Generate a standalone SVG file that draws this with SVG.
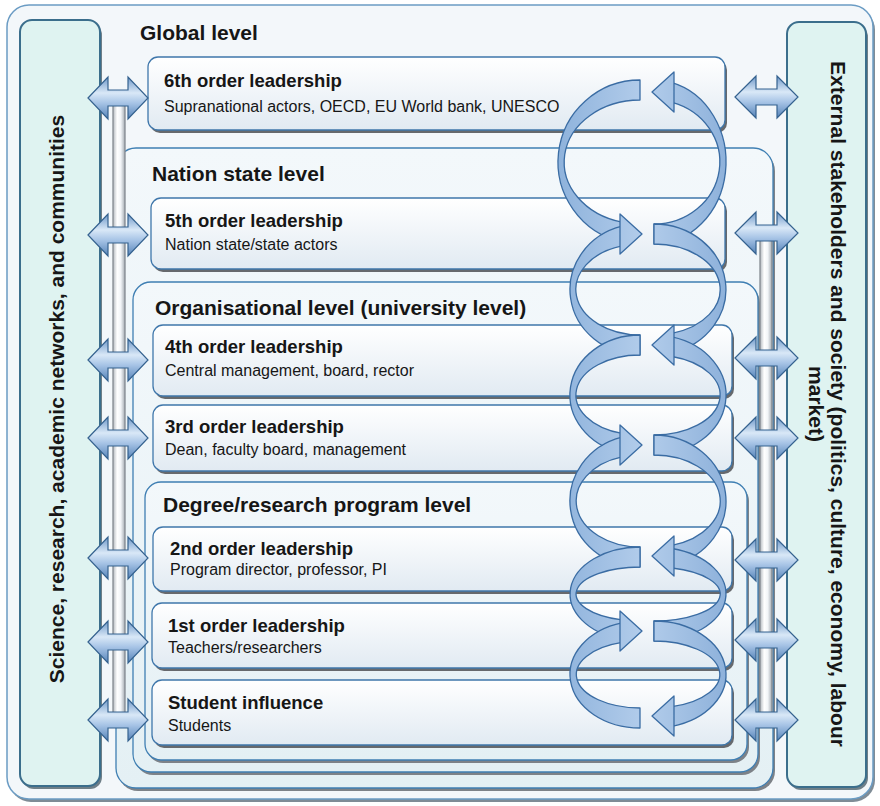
<svg xmlns="http://www.w3.org/2000/svg" width="880" height="806" viewBox="0 0 880 806">
<defs>
<style>
.t{font-family:"Liberation Sans",Arial,Helvetica,sans-serif;fill:#161616}
.lvl{font-size:21px;font-weight:bold}
.ttl{font-size:18.5px;font-weight:bold}
.sub{font-size:16px}
.side{font-size:21px;font-weight:bold}
.box{fill:url(#gBox);stroke:#3f77ab;stroke-width:1.3}
.shd{fill:#66696d}
.cont{fill:url(#gCont);stroke:#3f7fb3;stroke-width:1.3}
.cshd{fill:#7d8288}
.panel{fill:#dff3f1;stroke:#3b6e8c;stroke-width:2}
.dbl{fill:url(#gDbl);stroke:#35628f;stroke-width:1.2}
.swirl{fill:url(#gSw);stroke:#3a6ca3;stroke-width:1.3;stroke-linejoin:round}
.pipe{fill:url(#gPipe);stroke:#848b92;stroke-width:1.3}
</style>
<linearGradient id="gBox" x1="0" y1="0" x2="0" y2="1">
<stop offset="0" stop-color="#ffffff"/><stop offset="1" stop-color="#e1eaf2"/>
</linearGradient>
<linearGradient id="gCont" x1="0" y1="0" x2="0" y2="1">
<stop offset="0" stop-color="#f3f8fb"/><stop offset="1" stop-color="#e4f0f4"/>
</linearGradient>
<linearGradient id="gDbl" x1="0" y1="0" x2="0" y2="1">
<stop offset="0" stop-color="#6d97c8"/><stop offset="0.38" stop-color="#d9e8f7"/><stop offset="0.62" stop-color="#a7c4e6"/><stop offset="1" stop-color="#5583b8"/>
</linearGradient>
<linearGradient id="gSw" gradientUnits="userSpaceOnUse" x1="560" y1="0" x2="730" y2="0">
<stop offset="0" stop-color="#8fb3dc"/><stop offset="0.5" stop-color="#b3cdeb"/><stop offset="1" stop-color="#8cb0da"/>
</linearGradient>
<linearGradient id="gPipe" x1="0" y1="0" x2="1" y2="0">
<stop offset="0" stop-color="#b3b9bf"/><stop offset="0.35" stop-color="#ffffff"/><stop offset="0.65" stop-color="#f2f5f8"/><stop offset="1" stop-color="#a4abb2"/>
</linearGradient>
<path id="dblL" d="M88,0 L108,-21 L108,-8 L128,-8 L128,-21 L148,0 L128,21 L128,8 L108,8 L108,21 Z"/>
<path id="dblR" d="M735,0 L756,-21 L756,-8 L777,-8 L777,-21 L798,0 L777,21 L777,8 L756,8 L756,21 Z"/>
<path id="headR" d="M620,-20 L642,0 L620,20 Z"/>
<path id="headL" d="M674,-20 L652,0 L674,20 Z"/>
</defs>

<g id="frame">
<rect x="9" y="8" width="866" height="794" rx="22" fill="#7f8c96"/>
<rect x="7" y="5" width="866" height="794" rx="22" fill="#f3f7fa" stroke="#6b9cc4" stroke-width="1.5"/>
</g>

<g id="science-panel">
<rect x="22" y="23" width="80" height="766" rx="12" fill="#6f7f88"/>
<rect x="20" y="20" width="80" height="766" rx="12" class="panel"/>
<text class="t side" transform="translate(64,399) rotate(-90)" text-anchor="middle">Science, research, academic networks, and communities</text>
</g>

<g id="external-panel">
<rect x="789" y="25" width="79" height="765" rx="12" fill="#6f7f88"/>
<rect x="787" y="22" width="79" height="765" rx="12" class="panel"/>
<text class="t side" transform="translate(831,404) rotate(90)" text-anchor="middle">External stakeholders and society (politics, culture, economy, labour</text>
<text class="t side" transform="translate(809,404) rotate(90)" text-anchor="middle">market)</text>
</g>

<g id="global-level">
<text class="t lvl" x="140" y="40">Global level</text>
</g>

<g id="nation-state-level">
<rect x="118" y="151" width="657" height="640" rx="20" class="cshd"/>
<rect x="116" y="148" width="657" height="640" rx="20" class="cont"/>
<text class="t lvl" x="152" y="181">Nation state level</text>
</g>

<g id="organisational-level">
<rect x="135" y="285" width="625" height="490" rx="18" class="cshd"/>
<rect x="133" y="282" width="625" height="490" rx="18" class="cont"/>
<text class="t lvl" x="155" y="315">Organisational level (university level)</text>
</g>

<g id="degree-level">
<rect x="147" y="485" width="602" height="278" rx="16" class="cshd"/>
<rect x="145" y="482" width="602" height="278" rx="16" class="cont"/>
<text class="t lvl" x="163" y="512">Degree/research program level</text>
</g>

<g id="order6">
<rect x="150" y="60" width="577" height="73" rx="10" class="shd"/>
<rect x="148" y="57" width="577" height="73" rx="10" class="box"/>
<text class="t ttl" x="164" y="87">6th order leadership</text>
<text class="t sub" x="164" y="112">Supranational actors, OECD, EU World bank, UNESCO</text>
</g>

<g id="order5">
<rect x="153" y="201" width="574" height="71" rx="10" class="shd"/>
<rect x="151" y="198" width="574" height="71" rx="10" class="box"/>
<text class="t ttl" x="165" y="227">5th order leadership</text>
<text class="t sub" x="165" y="250">Nation state/state actors</text>
</g>

<g id="order4">
<rect x="155" y="328" width="579" height="71" rx="10" class="shd"/>
<rect x="153" y="325" width="579" height="71" rx="10" class="box"/>
<text class="t ttl" x="165" y="353">4th order leadership</text>
<text class="t sub" x="165" y="376">Central management, board, rector</text>
</g>

<g id="order3">
<rect x="155" y="408" width="579" height="66" rx="10" class="shd"/>
<rect x="153" y="405" width="579" height="66" rx="10" class="box"/>
<text class="t ttl" x="165" y="433">3rd order leadership</text>
<text class="t sub" x="165" y="455">Dean, faculty board, management</text>
</g>

<g id="order2">
<rect x="155" y="530" width="579" height="64" rx="10" class="shd"/>
<rect x="153" y="527" width="579" height="64" rx="10" class="box"/>
<text class="t ttl" x="170" y="555">2nd order leadership</text>
<text class="t sub" x="170" y="575">Program director, professor, PI</text>
</g>

<g id="order1">
<rect x="154" y="606" width="580" height="65" rx="10" class="shd"/>
<rect x="152" y="603" width="580" height="65" rx="10" class="box"/>
<text class="t ttl" x="168" y="632">1st order leadership</text>
<text class="t sub" x="168" y="653">Teachers/researchers</text>
</g>

<g id="student">
<rect x="154" y="683" width="580" height="65" rx="10" class="shd"/>
<rect x="152" y="680" width="580" height="65" rx="10" class="box"/>
<text class="t ttl" x="168" y="709">Student influence</text>
<text class="t sub" x="168" y="731">Students</text>
</g>

<g id="connectors">
<g id="pipes">
<rect x="113" y="98" width="12" height="622" class="pipe"/>
<rect x="760" y="233" width="12" height="487" class="pipe"/>
</g>
<g id="side-arrows">
<use href="#dblL" class="dbl" transform="translate(0,98)"/>
<use href="#dblL" class="dbl" transform="translate(0,235)"/>
<use href="#dblL" class="dbl" transform="translate(0,360)"/>
<use href="#dblL" class="dbl" transform="translate(0,438)"/>
<use href="#dblL" class="dbl" transform="translate(0,558)"/>
<use href="#dblL" class="dbl" transform="translate(0,642)"/>
<use href="#dblL" class="dbl" transform="translate(0,720)"/>
<use href="#dblR" class="dbl" transform="translate(0,97)"/>
<use href="#dblR" class="dbl" transform="translate(0,233)"/>
<use href="#dblR" class="dbl" transform="translate(0,358)"/>
<use href="#dblR" class="dbl" transform="translate(0,438)"/>
<use href="#dblR" class="dbl" transform="translate(0,560)"/>
<use href="#dblR" class="dbl" transform="translate(0,640)"/>
<use href="#dblR" class="dbl" transform="translate(0,720)"/>
</g>
<g id="cycle-arrows">
<path class="swirl" d="M640,80 A82,82 0 0 0 622,242 L622,222.2 A76,62 0 0 1 640,100 Z"/>
<path class="swirl" d="M654,244 A72,82 0 0 0 672,82.6 L672,102.4 A66,62 0 0 1 654,224 Z"/>
<path class="swirl" d="M622,226.2 A70,65.5 0 0 0 640,355 L640,335 A64,45.5 0 0 1 622,245.8 Z"/>
<path class="swirl" d="M654,224 A72,65.5 0 0 1 672,352.9 L672,333.3 A66,45.5 0 0 0 654,244 Z"/>
<path class="swirl" d="M640,335 A70,60 0 0 0 622,453 L622,433.4 A64,40 0 0 1 640,355 Z"/>
<path class="swirl" d="M654,455 A72,60 0 0 0 672,336.9 L672,356.5 A66,40 0 0 1 654,435 Z"/>
<path class="swirl" d="M622,437.2 A70,66 0 0 0 640,567 L640,547 A64,46 0 0 1 622,456.9 Z"/>
<path class="swirl" d="M654,435 A72,66 0 0 1 672,564.9 L672,545.3 A66,46 0 0 0 654,455 Z"/>
<path class="swirl" d="M640,547 A70,47 0 0 0 622,639.4 L622,619.9 A64,27 0 0 1 640,567 Z"/>
<path class="swirl" d="M654,641 A72,47 0 0 0 672,548.5 L672,568 A66,27 0 0 1 654,621 Z"/>
<path class="swirl" d="M622,622.8 A70,53.5 0 0 0 640,728 L640,708 A64,33.5 0 0 1 622,642.4 Z"/>
<path class="swirl" d="M654,621 A72,53.5 0 0 1 672,726.3 L672,706.7 A66,33.5 0 0 0 654,641 Z"/>
<use href="#headR" class="swirl" transform="translate(0,234)"/>
<use href="#headR" class="swirl" transform="translate(0,445)"/>
<use href="#headR" class="swirl" transform="translate(0,631)"/>
<use href="#headL" class="swirl" transform="translate(0,92)"/>
<use href="#headL" class="swirl" transform="translate(0,345)"/>
<use href="#headL" class="swirl" transform="translate(0,556)"/>
<use href="#headL" class="swirl" transform="translate(0,716)"/>
</g>
</g>
</svg>
